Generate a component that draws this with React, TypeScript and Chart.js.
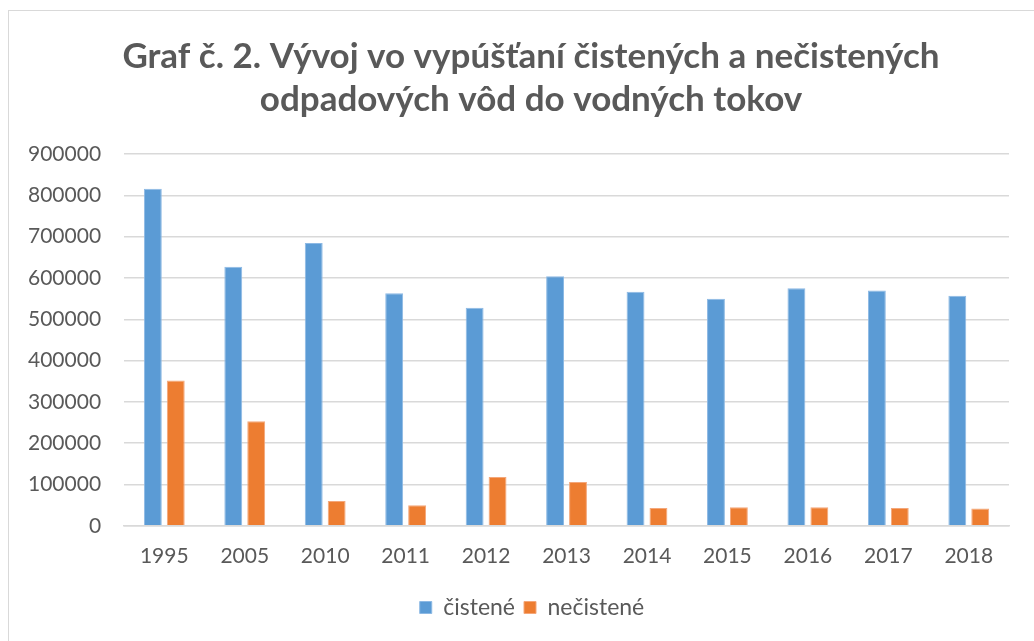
import React, { useEffect, useRef } from "react";
import { Chart, registerables } from "chart.js";

Chart.register(...registerables);

const categories = ["1995", "2005", "2010", "2011", "2012", "2013", "2014", "2015", "2016", "2017", "2018"];
const cistene = [816000, 627000, 685000, 563000, 528000, 604000, 567000, 550000, 575000, 570000, 557000];
const necistene = [352000, 253000, 60000, 49500, 118000, 106000, 43000, 45000, 45000, 43000, 42000];
const titleLines = ["Graf č. 2. Vývoj vo vypúšťaní čistených a nečistených", "odpadových vôd do vodných tokov"];
const seriesNames = ["čistené", "nečistené"];

const shiftBlocks = {
  id: "shiftBlocks",
  afterLayout(chart: any) {
    const t = chart.titleBlock;
    if (t) {
      t.left = 53;
    }
    const l = chart.legend;
    if (l) {
      l.left = 55;
    }
  },
};

export default function App() {
  const ref = useRef<HTMLCanvasElement | null>(null);
  useEffect(() => {
    if (!ref.current) return;
    const chart = new Chart(ref.current, {
      type: "bar",
      data: {
        labels: categories,
        datasets: [
          { label: seriesNames[0], data: cistene, backgroundColor: "#5B9BD5", borderColor: "#8DB9E4", borderWidth: 1, categoryPercentage: 0.57, barPercentage: 0.78 },
          { label: seriesNames[1], data: necistene, backgroundColor: "#ED7D31", borderColor: "#F4A77A", borderWidth: 1, categoryPercentage: 0.57, barPercentage: 0.78 },
        ],
      },
      plugins: [shiftBlocks],
      options: {
        animation: false,
        responsive: false,
        layout: { padding: { left: 5, right: 25, top: 35, bottom: 12 } },
        plugins: {
          title: {
            display: true,
            text: titleLines,
            color: "#595959",
            font: { family: "Lato", size: 35, weight: "bold", lineHeight: 1.23 },
            padding: { top: 0, bottom: 33 },
          },
          legend: {
            position: "bottom",
            labels: {
              color: "#595959",
              font: { family: "Lato", size: 23 },
              boxWidth: 12,
              boxHeight: 12,
              padding: 9,
            },
          },
          tooltip: { enabled: false },
        },
        scales: {
          x: {
            grid: { display: false, drawTicks: false },
            border: { display: true, color: "#d9d9d9", width: 1.5 },
            ticks: { color: "#595959", font: { family: "Lato", size: 21 }, padding: 18 },
          },
          y: {
            min: 0,
            max: 900000,
            grid: { color: "#d9d9d9", lineWidth: 1.5, drawTicks: false },
            border: { display: false },
            ticks: {
              stepSize: 100000,
              color: "#595959",
              font: { family: "Lato", size: 21 },
              padding: 23,
              callback: (v: any) => String(v),
            },
          },
        },
      },
    });
    return () => chart.destroy();
  }, []);
  return (
    <div style={{ position: "fixed", left: 0, top: 0, width: 1034, height: 641, background: "#fff" }}>
      <div style={{ position: "absolute", left: 8, top: 10, right: -2, bottom: -2, border: "1.5px solid #d9d9d9" }} />
      <canvas ref={ref} width={1034} height={641} style={{ position: "absolute", left: 0, top: 0 }} />
    </div>
  );
}
